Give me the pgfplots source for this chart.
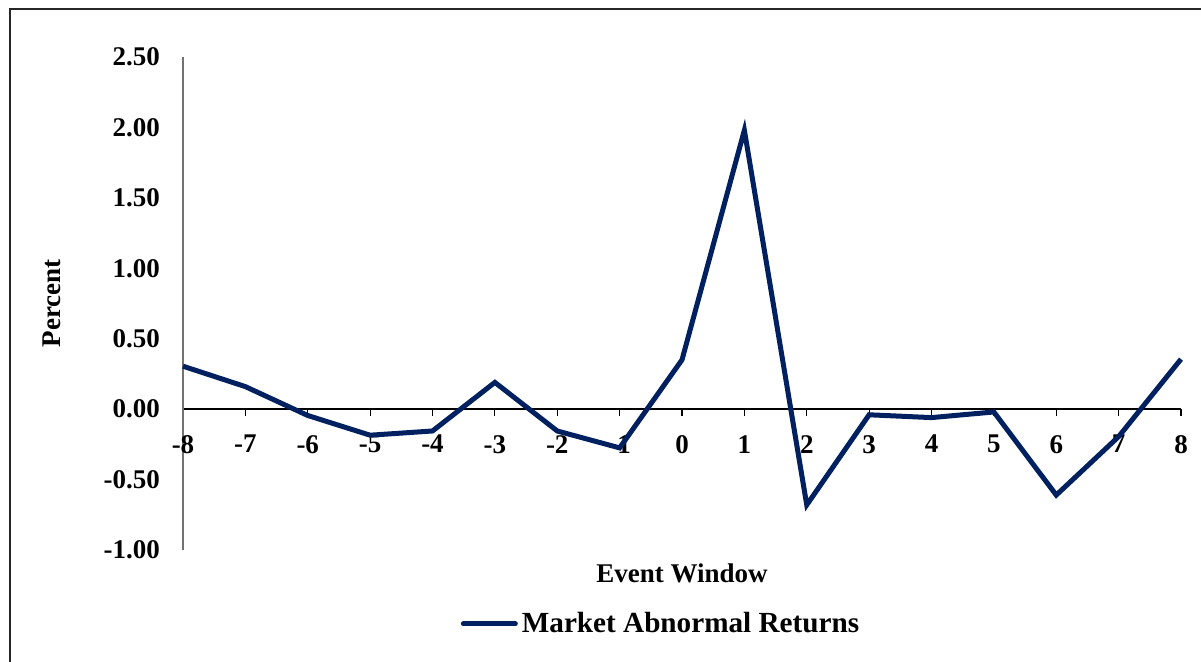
\documentclass[border=0pt]{standalone}
\usepackage{pgfplots}
\pgfplotsset{compat=1.18}
\usepackage{fontspec}
\setmainfont{Liberation Serif}
\definecolor{navy}{HTML}{002060}
\newcommand{\chartfont}{\fontsize{13.5}{16}\selectfont\bfseries}
\begin{document}
\begin{tikzpicture}[x=1pt,y=1pt]
\useasboundingbox (0,0) rectangle (600.5,330.5);
\draw[line width=1pt, black!85] (5,-2) -- (5,326) -- (603,326);
\begin{axis}[
  at={(91.5pt,55.5pt)}, anchor=south west,
  scale only axis, width=499pt, height=246.5pt,
  xmin=-8, xmax=8, ymin=-1, ymax=2.5,
  axis x line*=middle, axis y line*=left,
  hide obscured x ticks=false,
  axis line style={-},
  x axis line style={black, line width=0.75pt},
  y axis line style={black!55, line width=0.6pt},
  xtick={-8,-7,...,8},
  ytick={-1,-0.5,0,0.5,1,1.5,2,2.5},
  major tick length=3.5pt,
  x tick style={black, line width=0.6pt},
  xtick align=outside,
  y tick style={draw=none},
  tick label style={font=\chartfont},
  xticklabel style={yshift=-6pt},
  yticklabel style={xshift=-8pt},
  /pgf/number format/assume math mode=true,
  yticklabel={\pgfmathprintnumber[fixed,fixed zerofill,precision=2]{\tick}},
  xticklabel={\pgfmathprintnumber[int detect]{\tick}},
  xlabel={Event Window},
  ylabel={Percent},
  label style={font=\chartfont},
  xlabel style={at={(axis description cs:0.5,0)}, anchor=north, inner sep=0pt, yshift=-6.5pt},
  ylabel style={at={(axis description cs:-0.131,0.5)}, anchor=center, rotate=0},
  legend style={at={(axis description cs:0.48,-0.15)}, anchor=center, draw=none, fill=none,
    font=\fontsize{14.6}{17}\selectfont\bfseries},
  legend cell align=left,
  clip=false,
]
\addplot[navy, line width=2.5pt,
  legend image code/.code={\draw[navy, line width=2.5pt, line cap=round] (0pt,0pt) -- (26pt,0pt);}]
coordinates {
(-8,0.305) (-7,0.16) (-6,-0.045) (-5,-0.185) (-4,-0.155) (-3,0.19) (-2,-0.155) (-1,-0.275)
(0,0.35) (1,1.98) (2,-0.68) (3,-0.04) (4,-0.06) (5,-0.02) (6,-0.61) (7,-0.195) (8,0.355)
};
\legend{Market Abnormal Returns}
\end{axis}
\end{tikzpicture}
\end{document}
